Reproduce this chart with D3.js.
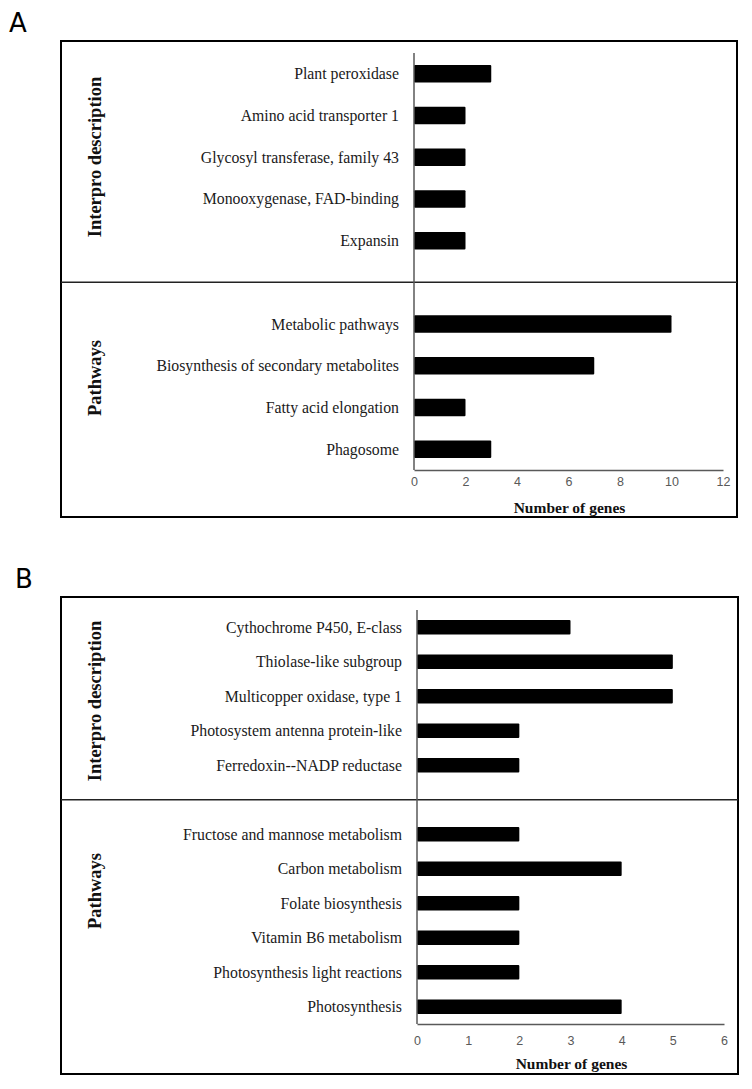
<!DOCTYPE html>
<html>
<head>
<meta charset="utf-8">
<title>Number of genes</title>
<style>
  body { margin: 0; background: #fff; }
  svg { display: block; }
  .cat { font-family: "Liberation Serif", serif; font-size: 15.8px; fill: #1a1a1a; text-anchor: end; }
  .grp { font-family: "Liberation Serif", serif; font-size: 18.5px; font-weight: bold; fill: #111; text-anchor: middle; }
  .ttl { font-family: "Liberation Serif", serif; font-size: 15.5px; font-weight: bold; fill: #111; text-anchor: middle; }
  .tick text { font-family: "Liberation Sans", sans-serif; font-size: 12.5px; fill: #595959; }
  .panel { font-family: "DejaVu Sans", sans-serif; font-size: 26px; fill: #000; }
</style>
</head>
<body>
<svg id="chart" width="752" height="1089"></svg>
<script src="https://d3js.org/d3.v7.min.js"></script>
<script>
// panel A
const aInterproLabels = ['Plant peroxidase', 'Amino acid transporter 1', 'Glycosyl transferase, family 43',
  'Monooxygenase, FAD-binding', 'Expansin']
const aInterproValues = [3, 2, 2, 2, 2]
const aPathwayLabels = ['Metabolic pathways', 'Biosynthesis of secondary metabolites', 'Fatty acid elongation', 'Phagosome']
const aPathwayValues = [10, 7, 2, 3]
const aTicks = [0, 2, 4, 6, 8, 10, 12]

// panel B
const bInterproLabels = ['Cythochrome P450, E-class', 'Thiolase-like subgroup', 'Multicopper oxidase, type 1',
  'Photosystem antenna protein-like', 'Ferredoxin--NADP reductase']
const bInterproValues = [3, 5, 5, 2, 2]
const bPathwayLabels = ['Fructose and mannose metabolism', 'Carbon metabolism', 'Folate biosynthesis',
  'Vitamin B6 metabolism', 'Photosynthesis light reactions', 'Photosynthesis']
const bPathwayValues = [2, 4, 2, 2, 2, 4]
const bTicks = [0, 1, 2, 3, 4, 5, 6]

const svg = d3.select('#chart')

function drawPanel(cfg) {
  const g = svg.append('g')

  // letter
  g.append('text').attr('class', 'panel')
    .attr('x', cfg.letterX).attr('y', cfg.letterY).text(cfg.letter)

  const rows = []
  cfg.interLabels.forEach((l, i) => rows.push({ label: l, value: cfg.interValues[i] }))
  rows.push({ label: '__gap', value: null })
  cfg.pathLabels.forEach((l, i) => rows.push({ label: l, value: cfg.pathValues[i] }))

  const x = d3.scaleLinear()
    .domain([0, cfg.ticks[cfg.ticks.length - 1]])
    .range([cfg.x0, cfg.x1])

  const y = d3.scaleBand()
    .domain(rows.map(d => d.label))
    .range([cfg.top, cfg.bottom])
    .paddingInner(0.58)
    .paddingOuter(0.29)

  const gapY = y('__gap') + y.bandwidth() / 2

  // outer box
  g.append('rect')
    .attr('x', cfg.box[0]).attr('y', cfg.box[1])
    .attr('width', cfg.box[2]).attr('height', cfg.box[3])
    .attr('fill', 'none').attr('stroke', '#000').attr('stroke-width', 2)

  // divider between the two groups
  g.append('line')
    .attr('x1', cfg.box[0]).attr('x2', cfg.box[0] + cfg.box[2])
    .attr('y1', gapY).attr('y2', gapY)
    .attr('stroke', '#222').attr('stroke-width', 1.5)

  // bars
  g.selectAll('rect.bar')
    .data(rows.filter(d => d.value != null))
    .join('rect')
    .attr('class', 'bar')
    .attr('x', x(0))
    .attr('y', d => y(d.label))
    .attr('width', d => x(d.value) - x(0))
    .attr('height', y.bandwidth())
    .attr('rx', 1)
    .attr('fill', '#000')

  // category labels
  g.selectAll('text.cat')
    .data(rows.filter(d => d.value != null))
    .join('text')
    .attr('class', 'cat')
    .attr('x', cfg.x0 - 15)
    .attr('y', d => y(d.label) + y.bandwidth() / 2)
    .attr('dy', '0.35em')
    .text(d => d.label)

  // vertical axis line
  g.append('line')
    .attr('x1', cfg.x0).attr('x2', cfg.x0)
    .attr('y1', cfg.top).attr('y2', cfg.bottom)
    .attr('stroke', '#595959').attr('stroke-width', 1.5)

  // x axis
  const xAxis = g.append('g')
    .attr('transform', `translate(0,${cfg.bottom})`)
    .call(d3.axisBottom(x).tickValues(cfg.ticks).tickFormat(d3.format('d'))
      .tickSize(0).tickPadding(cfg.tickPad))
  xAxis.select('.domain').attr('stroke', '#595959').attr('stroke-width', 1.5)

  g.append('text').attr('class', 'ttl')
    .attr('x', (cfg.x0 + cfg.x1) / 2 + 1).attr('y', cfg.titleY)
    .attr('dy', '0.35em')
    .text('Number of genes')

  // group labels
  g.append('text').attr('class', 'grp')
    .attr('transform', `translate(${cfg.grpX},${cfg.grp1Y}) rotate(-90)`)
    .attr('dy', '0.35em')
    .text('Interpro description')
  g.append('text').attr('class', 'grp')
    .attr('transform', `translate(${cfg.grpX},${cfg.grp2Y}) rotate(-90)`)
    .attr('dy', '0.35em')
    .text('Pathways')
}

drawPanel({
  letter: 'A', letterX: 9, letterY: 32,
  interLabels: aInterproLabels, interValues: aInterproValues,
  pathLabels: aPathwayLabels, pathValues: aPathwayValues,
  ticks: aTicks,
  box: [61, 41, 676, 476],
  x0: 414, x1: 723, top: 53, bottom: 470, tickPad: 7, titleY: 508,
  grpX: 95, grp1Y: 157, grp2Y: 378
})

drawPanel({
  letter: 'B', letterX: 15, letterY: 588,
  interLabels: bInterproLabels, interValues: bInterproValues,
  pathLabels: bPathwayLabels, pathValues: bPathwayValues,
  ticks: bTicks,
  box: [61, 597, 677, 477],
  x0: 417, x1: 724, top: 610, bottom: 1024, tickPad: 12, titleY: 1064,
  grpX: 95, grp1Y: 701, grp2Y: 891
})
</script>
</body>
</html>
